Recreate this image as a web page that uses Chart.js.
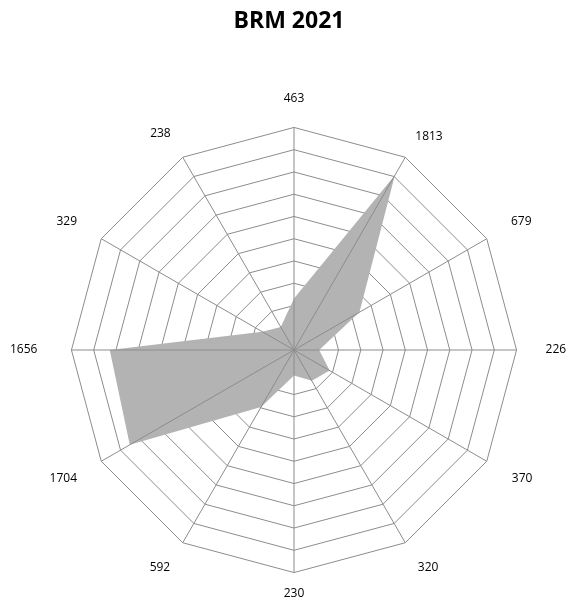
<!DOCTYPE html>
<html>
<head>
<meta charset="utf-8">
<script src="https://cdn.jsdelivr.net/npm/chart.js@4"></script>
<style>
  html, body { margin: 0; padding: 0; background: #fff; }
  #wrap { width: 573px; height: 601px; }
</style>
</head>
<body>
<div id="wrap"><canvas id="chart"></canvas></div>
<script>
// categories (the axis labels are the values themselves)
const categories = ['463', '1813', '679', '226', '370', '320', '230', '592', '1704', '1656', '329', '238'];
const values = [463, 1813, 679, 226, 370, 320, 230, 592, 1704, 1656, 329, 238];
const scaleMax = 2000;
const scaleStep = 200;

const gridColor = '#8c8c8c';
// gap between the outer ring and each label, clockwise from the top
const labelGap = [26, 20, 28, 29, 29, 25, 18, 25, 28, 34, 28, 24];

// Excel draws the spokes above the filled area, so redraw them after the dataset
const spokesOnTop = {
    id: 'spokesOnTop',
    afterDatasetsDraw(chart) {
        const s = chart.scales.r;
        const ctx = chart.ctx;
        ctx.save();
        ctx.strokeStyle = gridColor;
        ctx.lineWidth = 1;
        for (let i = 0; i < chart.data.labels.length; i++) {
            const p = s.getPointPositionForValue(i, s.max);
            ctx.beginPath();
            ctx.moveTo(s.xCenter, s.yCenter);
            ctx.lineTo(p.x, p.y);
            ctx.stroke();
        }
        ctx.restore();
    }
};

new Chart(document.getElementById('chart').getContext('2d'), {
    type: 'radar',
    data: {
        labels: categories,
        datasets: [{
            label: 'BRM 2021',
            data: values,
            backgroundColor: '#b3b3b3',
            borderWidth: 0,
            pointRadius: 0,
            fill: true
        }]
    },
    options: {
        responsive: true,
        maintainAspectRatio: false,
        animation: false,
        layout: {
            padding: { top: 0, bottom: 0, left: 5, right: 0 }
        },
        scales: {
            r: {
                min: 0,
                max: scaleMax,
                ticks: { display: false, stepSize: scaleStep },
                grid: { color: gridColor, lineWidth: 1 },
                angleLines: { display: false },
                pointLabels: {
                    padding: (ctx) => labelGap[ctx.index],
                    color: '#000',
                    // tight line box so the labels hug the edge like the original
                    font: { family: 'Open Sans', size: 12, lineHeight: 0.5 }
                }
            }
        },
        plugins: {
            legend: { display: false },
            tooltip: { enabled: false },
            title: {
                display: true,
                text: 'BRM 2021',
                color: '#000',
                font: { family: 'Open Sans', size: 23, weight: 'bold' },
                padding: { top: 8, bottom: 55.4 }
            }
        }
    },
    plugins: [spokesOnTop]
});
</script>
</body>
</html>
